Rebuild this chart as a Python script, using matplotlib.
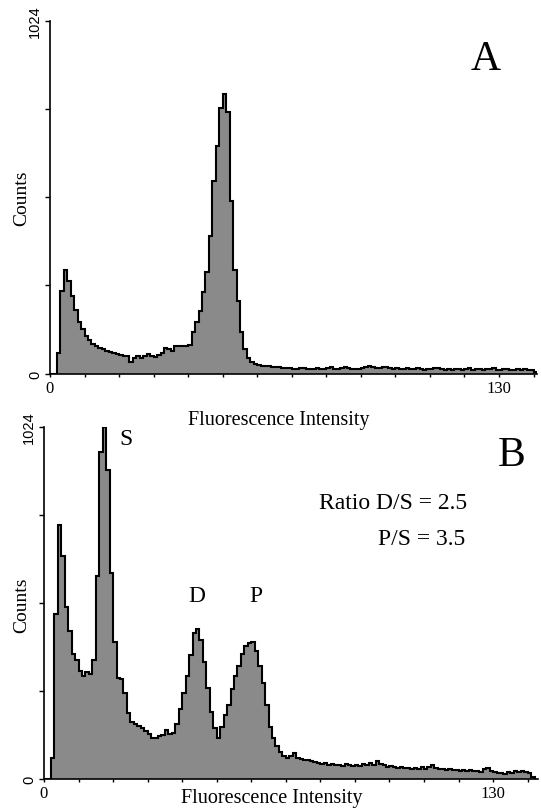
import numpy as np
import matplotlib
matplotlib.use('Agg')
import matplotlib.pyplot as plt

plt.rcParams['font.family'] = ['Liberation Serif', 'DejaVu Serif']

# counts per channel (bin width 1)
counts_a = [
    0, 0, 60, 240, 300, 270, 225, 185, 150, 128,
    108, 96, 86, 80, 74, 70, 66, 63, 59, 56,
    54, 52, 51, 32, 45, 52, 44, 50, 58, 52,
    49, 55, 60, 74, 70, 64, 80, 81, 81, 81,
    82, 122, 151, 183, 238, 296, 400, 560, 661, 770,
    812, 760, 500, 300, 212, 120, 70, 44, 32, 28,
    25, 23, 22, 21, 20, 19, 18, 16, 15, 17,
    14, 13, 15, 17, 14, 12, 14, 16, 13, 12,
    15, 18, 14, 13, 16, 19, 15, 12, 14, 13,
    16, 20, 22, 19, 17, 15, 18, 20, 16, 14,
    15, 13, 12, 15, 14, 13, 16, 12, 11, 14,
    13, 15, 17, 12, 10, 13, 11, 14, 12, 10,
    13, 15, 11, 12, 14, 10, 12, 13, 15, 11,
    9, 12, 14, 10, 11, 13, 10, 12, 9, 11,
    5,
]

counts_b = [
    0, 0, 60, 480, 740, 650, 500, 430, 365, 345,
    315, 300, 310, 305, 345, 590, 950, 1024, 900, 600,
    400, 295, 292, 250, 193, 166, 160, 155, 149, 140,
    132, 120, 120, 124, 129, 142, 130, 135, 160, 205,
    250, 300, 360, 426, 436, 405, 340, 265, 195, 148,
    118, 150, 185, 215, 262, 300, 330, 365, 388, 395,
    400, 372, 330, 280, 215, 150, 118, 95, 80, 66,
    62, 66, 76, 62, 58, 56, 54, 52, 50, 46,
    44, 46, 42, 45, 40, 42, 38, 43, 40, 37,
    42, 38, 45, 40, 48, 42, 52, 44, 40, 36,
    38, 34, 32, 35, 31, 33, 30, 32, 29, 36,
    30, 34, 42, 32, 28, 30, 26, 28, 25, 27,
    24, 26, 23, 25, 22, 24, 21, 28, 32, 22,
    20, 17, 18, 16, 19, 17, 22, 20, 23, 21,
    18, 5,
]

x_ticks = list(range(0, 141, 10))
x_labels = ['0'] + [''] * 12 + ['130', '']
y_ticks = [0, 256, 512, 768, 1024]
y_labels = ['0', '', '', '', '1024']

W, H = 541, 812
fig = plt.figure(figsize=(W / 100, H / 100), dpi=100)
ax_a = fig.add_axes([50 / W, 1 - 374.5 / H, 487 / W, 352.5 / H])
ax_b = fig.add_axes([44 / W, 1 - 780 / H, 494 / W, 352 / H])


def draw_panel(ax, counts, xmax):
    edges = np.arange(len(counts) + 1)
    ax.stairs(counts, edges, fill=True, color='#8a8a8a', lw=0)
    ax.stairs(counts, edges, color='black', lw=1.5)
    ax.set_xlim(0, xmax)
    ax.set_ylim(0, 1024)
    ax.spines[['top', 'right']].set_visible(False)
    for s in ('left', 'bottom'):
        ax.spines[s].set_linewidth(1.2)
    ax.set_xticks(x_ticks, x_labels, fontsize=12)
    ax.set_yticks(y_ticks, y_labels, rotation=90, va='center',
                  fontfamily='Liberation Sans', fontsize=10.5)
    ax.tick_params(axis='x', length=2.5, width=1, pad=2)
    ax.tick_params(axis='y', length=3.5, width=1, pad=2)


draw_panel(ax_a, counts_a, 141)
draw_panel(ax_b, counts_b, 143)


def ftext(px, py, s, **kw):
    fig.text(px / W, 1 - py / H, s, **kw)


ftext(22, 198, 'Counts', rotation=90, ha='center', va='center', fontsize=14)
ftext(22, 605, 'Counts', rotation=90, ha='center', va='center', fontsize=14)
ftext(279, 421, 'Fluorescence Intensity', ha='center', va='center', fontsize=14.5)
ftext(272, 799, 'Fluorescence Intensity', ha='center', va='center', fontsize=14.5)

ftext(486, 60, 'A', ha='center', va='center', fontsize=30)
ftext(512, 456, 'B', ha='center', va='center', fontsize=30)
ftext(126, 440, 'S', ha='center', va='center', fontsize=17)
ftext(197, 597, 'D', ha='center', va='center', fontsize=17)
ftext(256, 597, 'P', ha='center', va='center', fontsize=17)
ftext(467, 504, 'Ratio D/S = 2.5', ha='right', va='center', fontsize=17)
ftext(465, 540, 'P/S = 3.5', ha='right', va='center', fontsize=17)

fig.savefig('out.png', dpi=100)
